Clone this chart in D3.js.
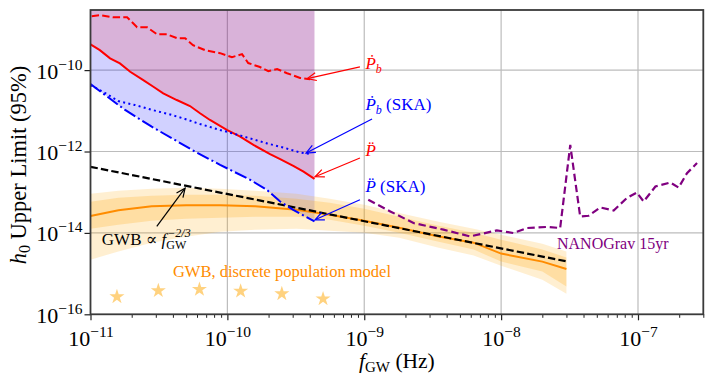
<!DOCTYPE html>
<html>
<head>
<meta charset="utf-8">
<script src="https://cdnjs.cloudflare.com/ajax/libs/d3/7.8.5/d3.min.js"></script>
<style>
body { margin: 0; background: #fff; }
svg { display: block; font-family: "Liberation Serif", "DejaVu Serif", serif; }
</style>
</head>
<body>
<div id="container"></div>
<script>
// ---- data ----
var fPdotB = [1.02e-11, 1.17e-11, 1.46e-11, 1.85e-11, 2.19e-11, 2.59e-11, 3.06e-11, 3.62e-11, 4.29e-11, 4.91e-11, 5.61e-11,
    6.87e-11, 8.85e-11, 1.08e-10, 1.28e-10, 1.42e-10, 1.73e-10, 1.99e-10, 2.31e-10, 2.73e-10, 3.40e-10, 4.02e-10];
var hPdotB = [2.11e-9, 2.23e-9, 1.99e-9, 1.99e-9, 1.13e-9, 1.13e-9, 7.6e-10, 7.6e-10, 6.1e-10, 6.1e-10, 4.1e-10,
    3.09e-10, 2.61e-10, 2.08e-10, 2.47e-10, 1.49e-10, 1.19e-10, 9.4e-11, 1.06e-10, 8.4e-11, 6.4e-11, 6.0e-11];

var fPddot = [1.0e-11, 1.17e-11, 1.39e-11, 1.64e-11, 1.95e-11, 2.43e-11, 2.88e-11, 3.40e-11, 4.27e-11, 5.33e-11,
    6.31e-11, 7.46e-11, 9.9e-11, 1.24e-10, 1.55e-10, 2.05e-10, 2.43e-10, 3.03e-10, 3.60e-10, 4.33e-10];
var hPddot = [4.27e-10, 3.09e-10, 1.94e-10, 1.46e-10, 9.1e-11, 5.7e-11, 3.9e-11, 2.69e-11, 1.84e-11, 1.31e-11,
    8.7e-12, 5.96e-12, 3.38e-12, 2.32e-12, 1.45e-12, 8.6e-13, 6.5e-13, 4.44e-13, 3.21e-13, 2.13e-13];

var fPdotBSka = [1.0e-11, 1.28e-11, 1.59e-11, 2.11e-11, 2.82e-11, 3.69e-11, 4.91e-11, 6.31e-11, 8.85e-11, 1.10e-10,
    1.47e-10, 1.95e-10, 2.55e-10, 3.40e-10, 3.98e-10];
var hPdotBSka = [4.29e-11, 2.73e-11, 1.74e-11, 1.39e-11, 1.05e-11, 8.4e-12, 6.3e-12, 4.74e-12, 3.38e-12, 2.78e-12,
    2.09e-12, 1.58e-12, 1.26e-12, 9.5e-13, 8.7e-13];

var fPddotSka = [1.0e-11, 1.79e-11, 2.80e-11, 3.93e-11, 5.81e-11, 8.85e-11, 1.47e-10, 1.94e-10, 2.43e-10, 3.03e-10, 4.33e-10];
var hPddotSka = [4.54e-11, 1.05e-11, 4.07e-12, 2.12e-12, 9.95e-13, 4.7e-13, 2.01e-13, 1.15e-13, 5.9e-14, 3.7e-14, 1.91e-14];

var fNano = [1.07e-9, 1.55e-9, 2.29e-9, 3.79e-9, 5.94e-9, 9.3e-9, 1.23e-8, 1.55e-8, 2.16e-8, 2.70e-8, 3.2e-8, 3.78e-8,
    4.36e-8, 5.31e-8, 6.64e-8, 8.3e-8, 9.8e-8, 1.10e-7, 1.34e-7, 1.72e-7, 1.98e-7, 2.28e-7, 2.70e-7];
var hNano = [6.5e-14, 3.37e-14, 1.75e-14, 1.20e-14, 8.2e-15, 1.15e-14, 9.95e-15, 1.32e-14, 1.40e-14, 1.32e-14, 1.45e-12, 2.54e-14,
    2.64e-14, 4.22e-14, 3.56e-14, 7.2e-14, 9.8e-14, 5.9e-14, 1.38e-13, 1.73e-13, 1.30e-13, 2.94e-13, 5.2e-13];

var fGwb = [1e-11, 1.6e-11, 2.8e-11, 5e-11, 8.9e-11, 1.6e-10, 3.2e-10, 5.6e-10, 1e-9, 1.8e-9, 3.5e-9, 6.3e-9, 1e-8, 2e-8, 3e-8];
var hGwbMedian = [2.6e-14, 3.6e-14, 4.5e-14, 4.8e-14, 4.8e-14, 4.5e-14, 3.7e-14, 2.8e-14, 2.0e-14, 1.34e-14, 8.2e-15, 5.75e-15, 3.1e-15, 1.97e-15, 1.3e-15];
var hGwbInnerHi = [5.8e-14, 7.3e-14, 8.2e-14, 8.6e-14, 8.6e-14, 8.2e-14, 6.9e-14, 5.5e-14, 3.9e-14, 2.5e-14, 1.5e-14, 1.01e-14, 6.8e-15, 3.9e-15, 2.5e-15];
var hGwbInnerLo = [1.27e-14, 1.59e-14, 1.99e-14, 2.23e-14, 2.36e-14, 2.5e-14, 2.5e-14, 2.1e-14, 1.5e-14, 1.01e-14, 6.1e-15, 3.9e-15, 1.97e-15, 1.12e-15, 4.8e-16];
var hGwbOuterHi = [9.1e-14, 1.08e-13, 1.21e-13, 1.28e-13, 1.21e-13, 1.08e-13, 9.1e-14, 6.9e-14, 4.9e-14, 3.1e-14, 1.88e-14, 1.27e-14, 9.0e-15, 5.4e-15, 3.5e-15];
var hGwbOuterLo = [2.2e-15, 3.5e-15, 5.75e-15, 8.1e-15, 1.07e-14, 1.2e-14, 1.27e-14, 1.13e-14, 1.01e-14, 7.6e-15, 4.3e-15, 2.8e-15, 1.57e-15, 7.1e-16, 3.2e-16];

var fPower = [1e-11, 3e-8];
var hPower = [4.2e-13, 2.0e-15];

var fStars = [1.56e-11, 3.13e-11, 6.25e-11, 1.25e-10, 2.5e-10, 5.0e-10];
var hStars = [2.7e-16, 3.8e-16, 4.1e-16, 3.7e-16, 3.2e-16, 2.4e-16];

var xMajor = [1e-11, 1e-10, 1e-9, 1e-8, 1e-7];
var xTickExp = ['\u221211', '\u221210', '\u22129', '\u22128', '\u22127'];
var yMajor = [1e-16, 1e-14, 1e-12, 1e-10];
var yTickExp = ['\u221216', '\u221214', '\u221212', '\u221210'];

// ---- layout ----
var W = 713, H = 385;
var pL = 90.5, pR = 703.3, pT = 10, pB = 314.3;

var x = d3.scaleLog().domain([1e-11, 3e-7]).range([pL, pR]);
var y = d3.scaleLog().domain([1e-16, 3e-9]).range([pB, pT]);

var svg = d3.select('#container').append('svg')
    .attr('width', W).attr('height', H);

var defs = svg.append('defs');
defs.append('clipPath').attr('id', 'plotclip').append('rect')
    .attr('x', pL).attr('y', pT).attr('width', pR - pL).attr('height', pB - pT);

['red', 'blue', 'black'].forEach(function (c) {
    defs.append('marker').attr('id', 'arr-' + c)
        .attr('viewBox', '-10 -6 12 12').attr('refX', 0).attr('refY', 0)
        .attr('markerWidth', 12).attr('markerHeight', 12).attr('markerUnits', 'userSpaceOnUse')
        .attr('orient', 'auto')
        .append('path').attr('d', 'M-9,-4 L0,0 L-9,4')
        .attr('fill', 'none').attr('stroke', c).attr('stroke-width', 1.2);
});

// grid
var grid = svg.append('g');
grid.selectAll('.gx').data(xMajor.slice(1)).enter().append('line')
    .attr('x1', d => x(d)).attr('x2', d => x(d)).attr('y1', pT).attr('y2', pB)
    .attr('stroke', '#bcbcbc').attr('stroke-width', 1.2);
grid.selectAll('.gy').data(yMajor.slice(1)).enter().append('line')
    .attr('y1', d => y(d)).attr('y2', d => y(d)).attr('x1', pL).attr('x2', pR)
    .attr('stroke', '#bcbcbc').attr('stroke-width', 1.2);

var plot = svg.append('g').attr('clip-path', 'url(#plotclip)');

function pts(fs, hs) { return fs.map((f, i) => [x(f), y(hs[i])]); }
var line = d3.line();

// purple region above P-ddot curve
var purplePoly = pts(fPddot, hPddot)
    .concat([[x(fPddot[fPddot.length - 1]), y(3e-9)], [x(fPddot[0]), y(3e-9)]]);
plot.append('path').attr('d', line(purplePoly) + 'Z')
    .attr('fill', 'purple').attr('fill-opacity', 0.3);

// blue region between SKA P-ddot and P-ddot
var bluePoly = pts(fPddotSka, hPddotSka).concat(pts(fPddot, hPddot).reverse());
plot.append('path').attr('d', line(bluePoly) + 'Z')
    .attr('fill', 'blue').attr('fill-opacity', 0.18);

// GWB bands
var band = d3.area().x((d, i) => x(fGwb[i]));
plot.append('path').datum(fGwb)
    .attr('d', band.y0((d, i) => y(hGwbOuterLo[i])).y1((d, i) => y(hGwbOuterHi[i])))
    .attr('fill', 'orange').attr('fill-opacity', 0.18);
plot.append('path').datum(fGwb)
    .attr('d', band.y0((d, i) => y(hGwbInnerLo[i])).y1((d, i) => y(hGwbInnerHi[i])))
    .attr('fill', 'orange').attr('fill-opacity', 0.22);
plot.append('path').attr('d', line(pts(fGwb, hGwbMedian)))
    .attr('fill', 'none').attr('stroke', 'darkorange').attr('stroke-width', 2);

// power law
plot.append('path').attr('d', line(pts(fPower, hPower)))
    .attr('fill', 'none').attr('stroke', 'black').attr('stroke-width', 2.2)
    .attr('stroke-dasharray', '7.4,3.2');

// pulsar curves
plot.append('path').attr('d', line(pts(fPdotB, hPdotB)))
    .attr('fill', 'none').attr('stroke', 'red').attr('stroke-width', 2).attr('stroke-dasharray', '7.4,3.2');
plot.append('path').attr('d', line(pts(fPddot, hPddot)))
    .attr('fill', 'none').attr('stroke', 'red').attr('stroke-width', 2);
plot.append('path').attr('d', line(pts(fPdotBSka, hPdotBSka)))
    .attr('fill', 'none').attr('stroke', 'blue').attr('stroke-width', 2).attr('stroke-dasharray', '2,3.3');
plot.append('path').attr('d', line(pts(fPddotSka, hPddotSka)))
    .attr('fill', 'none').attr('stroke', 'blue').attr('stroke-width', 2).attr('stroke-dasharray', '12.8,3.2,2,3.2');

// NANOGrav
plot.append('path').attr('d', line(pts(fNano, hNano)))
    .attr('fill', 'none').attr('stroke', 'purple').attr('stroke-width', 2.2).attr('stroke-dasharray', '7.4,3.8');

// stars
plot.selectAll('.star').data(fStars).enter().append('path')
    .attr('transform', (d, i) => 'translate(' + x(d) + ',' + y(hStars[i]) + ')')
    .attr('d', d3.symbol(d3.symbolStar, 70))
    .attr('fill', 'orange').attr('fill-opacity', 0.5);

// axes
var xMinor = x.ticks().filter(d => Math.abs(Math.log10(d) - Math.round(Math.log10(d))) > 1e-6);
svg.append('g').attr('transform', 'translate(0,' + pB + ')')
    .call(d3.axisBottom(x).tickValues(xMinor).tickSize(3.5).tickFormat(''))
    .call(g => g.select('.domain').remove())
    .call(g => g.selectAll('line').attr('stroke', '#222').attr('stroke-width', 1));
var xAx = svg.append('g').attr('transform', 'translate(0,' + pB + ')')
    .call(d3.axisBottom(x).tickValues(xMajor).tickSize(6).tickFormat(''))
    .call(g => g.select('.domain').remove())
    .call(g => g.selectAll('line').attr('stroke', '#222').attr('stroke-width', 1.2));
xAx.selectAll('.tick').append('text')
    .attr('y', 32).attr('text-anchor', 'middle').attr('fill', 'black').attr('font-size', 22)
    .attr('font-family', '"Liberation Serif", serif')
    .each(function (d, i) {
        var t = d3.select(this);
        t.append('tspan').text('10');
        t.append('tspan').attr('dy', -9).attr('font-size', 15.5).text(xTickExp[i]);
    });

var yAx = svg.append('g').attr('transform', 'translate(' + pL + ',0)')
    .call(d3.axisLeft(y).tickValues(yMajor).tickSize(6).tickFormat(''))
    .call(g => g.select('.domain').remove())
    .call(g => g.selectAll('line').attr('stroke', '#222').attr('stroke-width', 1.2));
yAx.selectAll('.tick').append('text')
    .attr('x', -8).attr('y', 8).attr('text-anchor', 'end').attr('fill', 'black').attr('font-size', 22)
    .attr('font-family', '"Liberation Serif", serif')
    .each(function (d, i) {
        var t = d3.select(this);
        t.append('tspan').text('10');
        t.append('tspan').attr('dy', -9).attr('font-size', 15.5).text(yTickExp[i]);
    });

// frame
svg.append('rect').attr('x', pL).attr('y', pT).attr('width', pR - pL).attr('height', pB - pT)
    .attr('fill', 'none').attr('stroke', '#3a3a3a').attr('stroke-width', 1.8);

// axis labels
var xl = svg.append('text').attr('x', (pL + pR) / 2).attr('y', 368)
    .attr('text-anchor', 'middle').attr('font-size', 21.5);
xl.append('tspan').attr('font-style', 'italic').text('f');
xl.append('tspan').attr('dy', 4).attr('font-size', 15).text('GW');
xl.append('tspan').attr('dy', -4).text(' (Hz)');

var yl = svg.append('text').attr('transform', 'translate(26,' + 165 + ') rotate(-90)')
    .attr('text-anchor', 'middle').attr('font-size', 22.5);
yl.append('tspan').attr('font-style', 'italic').text('h');
yl.append('tspan').attr('dy', 4).attr('font-size', 16).text('0');
yl.append('tspan').attr('dy', -4).text(' Upper Limit (95%)');

// annotations
function arrow(c, f0, h0, f1, h1) {
    svg.append('line').attr('x1', x(f0)).attr('y1', y(h0)).attr('x2', x(f1)).attr('y2', y(h1))
        .attr('stroke', c).attr('stroke-width', 1.2).attr('marker-end', 'url(#arr-' + c + ')');
}
function pLabel(c, f, h, dotted, sub, rest) {
    var t = svg.append('text').attr('x', x(f)).attr('y', y(h)).attr('fill', c).attr('font-size', 17);
    t.append('tspan').attr('font-style', 'italic').text(dotted);
    if (sub) t.append('tspan').attr('font-style', 'italic').attr('dy', 4).attr('font-size', 12).text(sub);
    if (rest) t.append('tspan').attr('dy', sub ? -4 : 0).text(rest);
}

arrow('red', 9.3e-10, 1.2e-10, 3.83e-10, 6.2e-11);
pLabel('red', 1.02e-9, 1.06e-10, '\u1E56', 'b', null);
arrow('blue', 1.14e-9, 6.3e-12, 3.76e-10, 9.2e-13);
pLabel('blue', 1.02e-9, 1.05e-11, '\u1E56', 'b', ' (SKA)');
arrow('red', 9.3e-10, 6.9e-13, 4.37e-10, 2.4e-13);
pLabel('red', 1.02e-9, 7.8e-13, 'P\u0308', null, null);
arrow('blue', 9.3e-10, 6.5e-14, 4.37e-10, 2.1e-14);
pLabel('blue', 1.02e-9, 1.02e-13, 'P\u0308', null, ' (SKA)');

// GWB power-law label, with stacked sub/superscript on f
arrow('black', 3.05e-11, 1.44e-14, 4.91e-11, 1.26e-13);
var gl = svg.append('text').attr('x', x(1.21e-11)).attr('y', y(5.1e-15)).attr('fill', 'black').attr('font-size', 17);
gl.append('tspan').text('GWB \u221D ');
gl.append('tspan').attr('font-style', 'italic').text('f');
var w0 = gl.node().getComputedTextLength();
gl.append('tspan').attr('dy', 4).attr('font-size', 12).text('GW');
var w1 = gl.node().getComputedTextLength();
gl.append('tspan').attr('dx', -(w1 - w0) + 1).attr('dy', -12).attr('font-size', 12)
    .attr('font-style', 'italic').text('\u22122/3');

svg.append('text').attr('x', x(4.0e-11)).attr('y', y(8.4e-16)).attr('fill', 'darkorange').attr('font-size', 16.5)
    .text('GWB, discrete population model');
svg.append('text').attr('x', x(2.56e-8)).attr('y', y(4.1e-15)).attr('fill', 'purple').attr('font-size', 16)
    .text('NANOGrav 15yr');
</script>
</body>
</html>
